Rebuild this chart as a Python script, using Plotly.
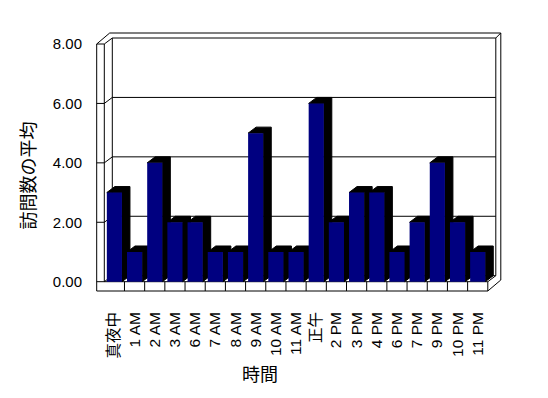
import plotly.graph_objects as go

# ---- data ----
categories = ["真夜中", "1 AM", "2 AM", "3 AM", "6 AM", "7 AM", "8 AM", "9 AM", "10 AM", "11 AM",
              "正午", "2 PM", "3 PM", "4 PM", "6 PM", "7 PM", "9 PM", "10 PM", "11 PM"]
values = [3, 1, 4, 2, 2, 1, 1, 5, 1, 1, 6, 2, 3, 3, 1, 2, 4, 2, 1]
y_ticks = [0, 2, 4, 6, 8]
y_ticktext = ["0.00", "2.00", "4.00", "6.00", "8.00"]
x_title = "時間"
y_title = "訪問数の平均"

# ---- layout geometry (pixels, in page coordinates) ----
W, H = 548, 398
OFF = 8                      # default body margin of the html page
FX0, FX1 = 104.3, 487.8      # front plane left/right
FY0, FY8 = 281.7, 44.0       # pixel of value 0 and value 8
L, R, T, B = 94, 504, 30, 294
n = len(categories)
u = (FX1 - FX0) / n
v = (FY0 - FY8) / 8.0

xa = (L - FX0) / u - 0.5
xb = (R - FX0) / u - 0.5
ya = (FY0 - B) / v
yb = (FY0 - T) / v

DX, DY = 8 / u, 6 / v             # depth offset
BTX, BTY = 5 / u, 5 / v           # back wall thickness
XLO = -0.5 - 7.6 / u              # left wall outer
YFB = -9.3 / v                    # floor bottom
XL, XR = -0.5, n - 0.5
YMAX = 8
BW = 0.75

FONT = "Liberation Sans, Noto Sans CJK JP, sans-serif"

shapes = []


def poly(pts, close=False, fill=None, width=1):
    d = "M " + " L ".join(f"{x},{y}" for x, y in pts)
    if close:
        d += " Z"
    s = dict(type="path", path=d, xref="x", yref="y", layer="below",
             line=dict(color="black", width=width))
    if fill:
        s["fillcolor"] = fill
    shapes.append(s)


# outer outline of walls/floor
poly([(XLO, YFB), (XLO, YMAX), (XLO + DX + BTX, YMAX + DY + BTY),
      (XR + DX + BTX, YMAX + DY + BTY), (XR + DX + BTX, YFB + DY + BTY),
      (XR, YFB), (XLO, YFB)], close=True)
# inner edges
poly([(XL, YMAX), (XL, 0), (XR, 0), (XR, YFB)])
poly([(XLO, YMAX), (XL, YMAX)])
# back plane
poly([(XL + DX, DY), (XL + DX, YMAX + DY), (XR + DX, YMAX + DY), (XR + DX, DY)], close=True)
poly([(XL, YMAX), (XL + DX, YMAX + DY)])
poly([(XR, 0), (XR + DX, DY)])
poly([(XR + DX, YMAX + DY), (XR + DX + BTX, YMAX + DY + BTY)])
poly([(XLO, 0), (XL, 0), (XL + DX, DY)])
# gridlines
for t in y_ticks[1:-1]:
    poly([(XLO, t), (XL, t), (XL + DX, t + DY), (XR + DX, t + DY)])
# floor dividers
for k in range(1, n):
    poly([(k - 0.5, YFB), (k - 0.5, 0)])

# black depth (top + side) for each bar
for i, val in enumerate(values):
    xl, xr = i - BW / 2, i + BW / 2
    poly([(xl, val), (xl + DX, val + DY), (xr + DX, val + DY), (xr + DX, DY),
          (xr, 0), (xr, val)], close=True, fill="black", width=1)

fig = go.Figure()
fig.add_trace(go.Bar(x=list(range(n)), y=values, width=BW,
                     marker=dict(color="#000080", line=dict(width=0)),
                     hoverinfo="skip"))

pw, ph = R - L, B - T


def paper_x(px):
    return (px - L) / pw


def paper_y(py):
    return (B - py) / ph


fig.update_layout(
    width=W - OFF, height=H - OFF,
    margin=dict(l=L - OFF, r=W - R, t=T - OFF, b=H - B, pad=0),
    paper_bgcolor="white", plot_bgcolor="white",
    showlegend=False,
    font=dict(family=FONT, size=15, color="black"),
    shapes=shapes,
    xaxis=dict(range=[xa, xb], tickmode="array", tickvals=list(range(n)),
               ticktext=categories, tickangle=-90, showgrid=False,
               zeroline=False, showline=False, ticks="", ticklabelstandoff=14,
               tickfont=dict(family=FONT, size=15.5, color="black"),
               automargin=False),
    yaxis=dict(range=[ya, yb], tickmode="array", tickvals=y_ticks,
               ticktext=y_ticktext, showgrid=False, zeroline=False,
               showline=False, ticks="", ticklabelstandoff=11,
               tickfont=dict(family=FONT, size=15, color="black"),
               automargin=False),
    annotations=[
        dict(text=x_title, x=paper_x(259.5), y=paper_y(375), xref="paper", yref="paper",
             showarrow=False, xanchor="center", yanchor="middle",
             font=dict(family=FONT, size=18, color="black")),
        dict(text=y_title, x=paper_x(28.5), y=paper_y(176), xref="paper", yref="paper",
             showarrow=False, xanchor="center", yanchor="middle", textangle=-90,
             font=dict(family=FONT, size=18, color="black")),
    ],
)

fig.write_html("out.html")
